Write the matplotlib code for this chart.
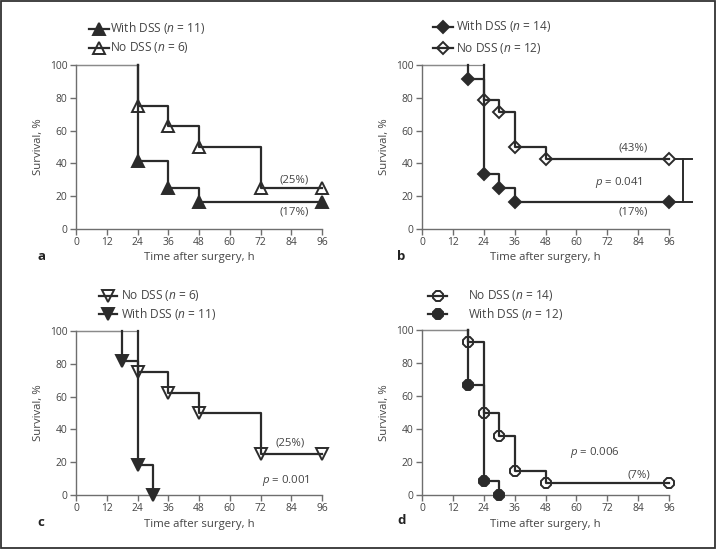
import numpy as np
import matplotlib
matplotlib.use('Agg')
import matplotlib.pyplot as plt
from matplotlib.lines import Line2D
from matplotlib.patches import Rectangle

plt.rcParams['font.family'] = ['Open Sans', 'DejaVu Sans']
plt.rcParams['mathtext.fontset'] = 'custom'
plt.rcParams['mathtext.rm'] = 'Open Sans'
plt.rcParams['mathtext.it'] = 'Open Sans:italic'

# panel a
a_with_t = [24, 36, 48, 96]
a_with_s = [41.7, 25.0, 16.7, 16.7]
a_no_t = [24, 36, 48, 72, 96]
a_no_s = [75.0, 62.5, 50.0, 25.0, 25.0]
# panel b
b_with_t = [18, 24, 30, 36, 96]
b_with_s = [91.7, 33.3, 25.0, 16.7, 16.7]
b_no_t = [24, 30, 36, 48, 96]
b_no_s = [78.6, 71.4, 50.0, 42.9, 42.9]
# panel c
c_no_t = [24, 36, 48, 72, 96]
c_no_s = [75.0, 62.5, 50.0, 25.0, 25.0]
c_with_t = [18, 24, 30]
c_with_s = [81.8, 18.2, 0.0]
# panel d
d_no_t = [18, 24, 30, 36, 48, 96]
d_no_s = [92.9, 50.0, 35.7, 14.3, 7.1, 7.1]
d_with_t = [18, 24, 30]
d_with_s = [66.7, 8.3, 0.0]

xticks = [0, 12, 24, 36, 48, 60, 72, 84, 96]
yticks = [0, 20, 40, 60, 80, 100]

W, H = 716, 549
dark = '#2b2b2b'
grey = '#6e6e6e'
txt = '#444444'
fs_tick = 7.4
fs_txt = 8.2
fs_leg = 8.6

fig = plt.figure(figsize=(W / 100, H / 100), dpi=100)
fig.patch.set_facecolor('white')


def fx(px):
    return px / W


def fy(py):
    return 1 - py / H


def make_ax(l, t, r, b):
    ax = fig.add_axes([fx(l), fy(b), fx(r) - fx(l), fy(t) - fy(b)])
    ax.set_xlim(0, 96)
    ax.set_ylim(0, 100)
    ax.set_xticks(xticks)
    ax.set_yticks(yticks)
    for s in ['top', 'right']:
        ax.spines[s].set_visible(False)
    for s in ['left', 'bottom']:
        ax.spines[s].set_color(grey)
        ax.spines[s].set_linewidth(1.0)
    ax.tick_params(direction='out', length=4, width=1.0, color=grey,
                   labelsize=fs_tick, labelcolor=txt, pad=2)
    ax.set_xlabel('Time after surgery, h', fontsize=fs_txt, color=txt, labelpad=3)
    ax.set_ylabel('Survival, %', fontsize=fs_txt, color=txt, labelpad=4)
    ax.patch.set_alpha(0)
    return ax


def km(ax, t, s, marker, filled, ms):
    ax.plot([0, t[0]], [100, 100], color='#8a8a8a', lw=0.9, clip_on=False, zorder=2)
    ax.step([t[0]] + t, [100] + s, where='post', color=dark, lw=1.6,
            clip_on=False, zorder=3)
    ax.plot(t, s, ls='none', marker=marker, ms=ms, mew=1.4, mec=dark,
            mfc=dark if filled else 'none', clip_on=False, zorder=4)


def leg(x0, x1, y, marker, filled, ms, label, tx):
    fig.add_artist(Line2D([fx(x0), fx(x1)], [fy(y), fy(y)], color=dark, lw=1.6))
    fig.add_artist(Line2D([fx((x0 + x1) / 2)], [fy(y)], ls='none', marker=marker,
                          ms=ms, mew=1.4, mec=dark,
                          mfc=dark if filled else 'none'))
    fig.text(fx(tx), fy(y), label, fontsize=fs_leg, color=txt, va='center', ha='left')


# a
ax = make_ax(76, 65, 322, 229)
km(ax, a_no_t, a_no_s, '^', False, 8)
km(ax, a_with_t, a_with_s, '^', True, 8)
ax.text(85, 30, '(25%)', fontsize=fs_txt, color=txt, ha='center', va='center')
ax.text(85, 10.5, '(17%)', fontsize=fs_txt, color=txt, ha='center', va='center')
leg(89, 109, 28.5, '^', True, 8, 'With DSS ($n$ = 11)', 110)
leg(89, 109, 47.5, '^', False, 8, 'No DSS ($n$ = 6)', 110)
fig.text(fx(37), fy(257), 'a', fontsize=9.5, fontweight='bold', color='#222', va='center')

# b
ax = make_ax(422, 65, 669, 229)
km(ax, b_no_t, b_no_s, 'D', False, 6)
km(ax, b_with_t, b_with_s, 'D', True, 6)
ax.text(82, 49.5, '(43%)', fontsize=fs_txt, color=txt, ha='center', va='center')
ax.text(82, 10.5, '(17%)', fontsize=fs_txt, color=txt, ha='center', va='center')
ax.text(76.5, 28.5, '$p$ = 0.041', fontsize=fs_txt, color=txt, ha='center', va='center')
ax.plot([101.4, 101.4], [b_no_s[-1], b_with_s[-1]], color=dark, lw=1.4, clip_on=False)
for v in [b_no_s[-1], b_with_s[-1]]:
    ax.plot([98.8, 105.0], [v, v], color=dark, lw=1.4, clip_on=False)
leg(433, 453, 26.5, 'D', True, 6, 'With DSS ($n$ = 14)', 456)
leg(433, 453, 48, 'D', False, 6, 'No DSS ($n$ = 12)', 456)
fig.text(fx(397), fy(257), 'b', fontsize=9.5, fontweight='bold', color='#222', va='center')

# c
ax = make_ax(76, 331, 322, 495)
km(ax, c_no_t, c_no_s, 'v', False, 8)
km(ax, c_with_t, c_with_s, 'v', True, 8)
ax.text(83.5, 31.5, '(25%)', fontsize=fs_txt, color=txt, ha='center', va='center')
ax.text(82, 9, '$p$ = 0.001', fontsize=fs_txt, color=txt, ha='center', va='center')
leg(99, 117, 295.5, 'v', False, 8, 'No DSS ($n$ = 6)', 121)
leg(99, 117, 314, 'v', True, 8, 'With DSS ($n$ = 11)', 121)
fig.text(fx(37), fy(523), 'c', fontsize=9.5, fontweight='bold', color='#222', va='center')

# d
ax = make_ax(422, 330, 669, 495)
km(ax, d_no_t, d_no_s, '8', False, 8)
km(ax, d_with_t, d_with_s, '8', True, 8)
ax.text(67, 25.5, '$p$ = 0.006', fontsize=fs_txt, color=txt, ha='center', va='center')
ax.text(84.3, 12, '(7%)', fontsize=fs_txt, color=txt, ha='center', va='center')
leg(428, 447, 295.5, '8', False, 8, 'No DSS ($n$ = 14)', 468)
leg(428, 447, 313.5, '8', True, 8, 'With DSS ($n$ = 12)', 468)
fig.text(fx(397), fy(521), 'd', fontsize=9.5, fontweight='bold', color='#222', va='center')

fig.add_artist(Rectangle((0.0015, 0.002), 0.997, 0.996, transform=fig.transFigure,
                         fill=False, edgecolor='#333333', lw=1.3))

fig.savefig('out.png', dpi=100)
